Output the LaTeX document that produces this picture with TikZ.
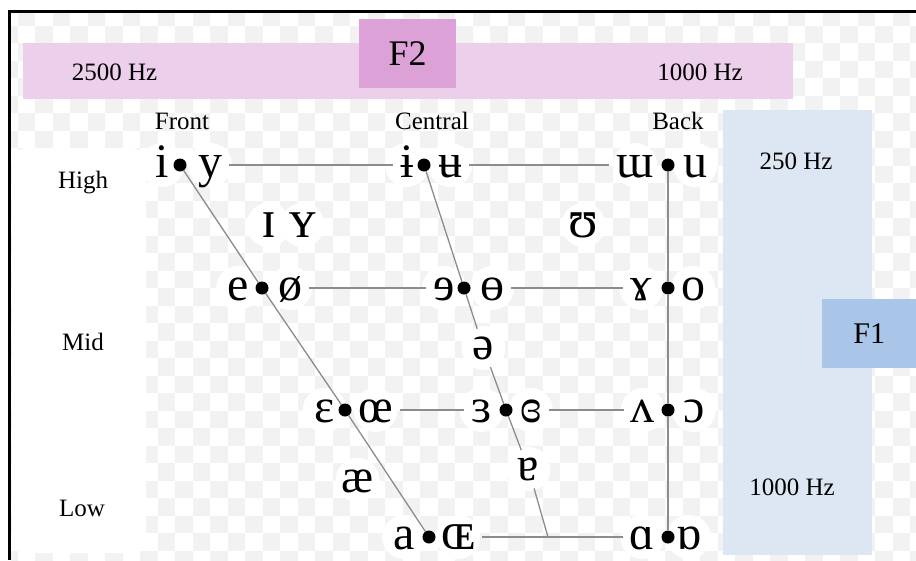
\documentclass[tikz,border=0pt]{standalone}
\usepackage{fontspec}
\setmainfont{Liberation Serif}
\pgfdeclarelayer{bg}
\pgfdeclarelayer{halo}
\pgfdeclarelayer{lines}
\pgfsetlayers{bg,halo,lines,main}
\definecolor{checkgray}{HTML}{F2F2F2}
\definecolor{pinkbar}{HTML}{ECCFEA}
\definecolor{pinkbox}{HTML}{DCA2D8}
\definecolor{bluebar}{HTML}{DDE7F4}
\definecolor{bluebox}{HTML}{A9C5E7}
\definecolor{linegray}{HTML}{8C8C8C}
\begin{document}
\begin{tikzpicture}[x=1pt,y=-1pt,
  lbl/.style={font=\fontsize{25}{25}\selectfont, inner sep=0pt, anchor=base},
  v/.style={font=\fontsize{48}{48}\selectfont, inner sep=0pt, text height=30pt, text depth=6pt},
  bigv/.style={v, font=\fontsize{54}{54}\selectfont},
  sv/.style={font=\fontsize{48}{48}\selectfont, inner sep=0pt, circle, minimum size=40pt},
  dot/.style={circle, fill=black, inner sep=0pt, minimum size=13pt},
  conn/.style={draw=linegray, line width=1.3pt},
  hconn/.style={conn, shorten <=7pt, shorten >=7pt},
  fbox/.style={inner sep=0pt, anchor=north west}
]
\useasboundingbox (0,0) rectangle (916,560);

% ---------- background ----------
\begin{pgfonlayer}{bg}
  \fill[white] (0,0) rectangle (916,560);
  \begin{scope}
    \clip (11,12.5) rectangle (916,560);
    \foreach \j in {0,...,31} {
      \pgfmathsetmacro\off{mod(\j+1,2)}
      \foreach \i in {0,...,26} {
        \fill[checkgray] (\off*17.5+\i*35, 8+\j*17.5) rectangle ++(17.5,17.5);
      }
    }
  \end{scope}
  \fill[white, rounded corners=15pt] (12,148) rectangle (146,553);
  \fill[pinkbar] (23,43) rectangle (793,99);
  \fill[bluebar] (723,110) rectangle (872,555);
  \draw[line width=3pt] (916,11) -- (9.5,11) -- (9.5,560);
\end{pgfonlayer}

% ---------- axis boxes and labels ----------
\node[fbox, fill=pinkbox, minimum width=97pt, minimum height=69pt,
      font=\fontsize{36}{36}\selectfont] (F2) at (359,19) {F2};
\node[fbox, fill=bluebox, minimum width=94pt, minimum height=69pt,
      font=\fontsize{30}{30}\selectfont] (F1) at (822,299) {F1};

\node[lbl] (hzA) at (114.5,80) {2500 Hz};
\node[lbl] (hzB) at (700,80) {1000 Hz};
\node[lbl] (front) at (182,129) {Front};
\node[lbl] (central) at (432,129) {Central};
\node[lbl] (back) at (678,129) {Back};
\node[lbl] (high) at (83,188) {High};
\node[lbl] (mid) at (83,350) {Mid};
\node[lbl] (low) at (82,516) {Low};
\node[lbl] (hzC) at (796,169) {250 Hz};
\node[lbl] (hzD) at (792,495) {1000 Hz};

% ---------- vowels: row 1 ----------
\node[dot] (D11) at (180,165) {};
\node[v,anchor=east] (vi) at (169,165) {i};
\node[v,anchor=west] (vy) at (198,165) {y};
\node[dot] (D12) at (424,165) {};
\node[v,anchor=east] (vbi) at (414,165) {ɨ};
\node[v,anchor=west] (vbu) at (438,165) {ʉ};
\node[dot] (D13) at (668,165) {};
\node[v,anchor=east] (vmu) at (654,165) {ɯ};
\node[v,anchor=west] (vu) at (683,165) {u};

% near-high
\node[bigv] (vI) at (268.5,225) {ɪ};
\node[bigv] (vY) at (302.5,225) {ʏ};
\node[bigv] (vU) at (583.5,225) {ʊ};

% ---------- row 2 ----------
\node[dot] (D21) at (262,288) {};
\node[v,anchor=east] (ve) at (249,288) {e};
\node[v,anchor=west] (vo2) at (278,288) {ø};
\node[dot] (D22) at (464,288) {};
\node[v,anchor=east] (vre) at (455,288) {ɘ};
\node[v,anchor=west] (vbo) at (480,288) {ɵ};
\node[dot] (D23) at (668,288) {};
\node[v,anchor=east] (vga) at (652,288) {ɤ};
\node[v,anchor=west] (vo) at (681,288) {o};

\node[sv] (schwa) at (483.5,348) {ə};

% ---------- row 3 ----------
\node[dot] (D31) at (345,410) {};
\node[v,anchor=east] (veps) at (335,410) {ɛ};
\node[v,anchor=west] (voe) at (358,410) {œ};
\node[dot] (D32) at (506,410) {};
\node[v,anchor=east] (vrep) at (492,410) {ɜ};
\node[v,anchor=west] (vcre) at (520,410) {ɞ};
\node[dot] (D33) at (668,410) {};
\node[v,anchor=east] (vwedge) at (655,410) {ʌ};
\node[v,anchor=west] (vopen) at (683,410) {ɔ};

\node[v] (vae) at (357.5,480) {æ};
\node[sv] (tura) at (528.5,469) {ɐ};

% ---------- row 4 ----------
\node[dot] (D41) at (429,537) {};
\node[v,anchor=east] (va) at (415,537) {a};
\node[bigv,anchor=west] (vOE) at (441,537) {ɶ};
\coordinate (jn) at (548,537);
\node[dot] (D43) at (668,537) {};
\node[v,anchor=east] (valpha) at (655,537) {ɑ};
\node[v,anchor=west] (vtalpha) at (676,537) {ɒ};

% ---------- halos ----------
\begin{pgfonlayer}{halo}
  \foreach \n in {vi,vy,vbi,vbu,vmu,vu,vI,vY,vU,ve,vo2,vre,vbo,vga,vo,schwa,
                  veps,voe,vrep,vcre,vwedge,vopen,vae,tura,va,vOE,valpha,vtalpha}
    \fill[white] (\n.center) circle (22);
\end{pgfonlayer}

% ---------- connectors ----------
\begin{pgfonlayer}{lines}
  \draw[conn] (D11) -- (D21) -- (D31) -- (D41);
  \draw[conn] (D12) -- (D22) -- (schwa);
  \draw[conn] (schwa) -- (D32) -- (tura);
  \draw[conn] (tura) -- (jn);
  \draw[conn] (D13) -- (D23) -- (D33) -- (D43);
  \draw[hconn] (vy) -- (vbi);
  \draw[hconn] (vbu) -- (vmu);
  \draw[hconn] (vo2) -- (vre);
  \draw[hconn] (vbo) -- (vga);
  \draw[hconn] (voe) -- (vrep);
  \draw[hconn] (vcre) -- (vwedge);
  \draw[hconn] (vOE) -- (valpha);
\end{pgfonlayer}
\end{tikzpicture}
\end{document}
